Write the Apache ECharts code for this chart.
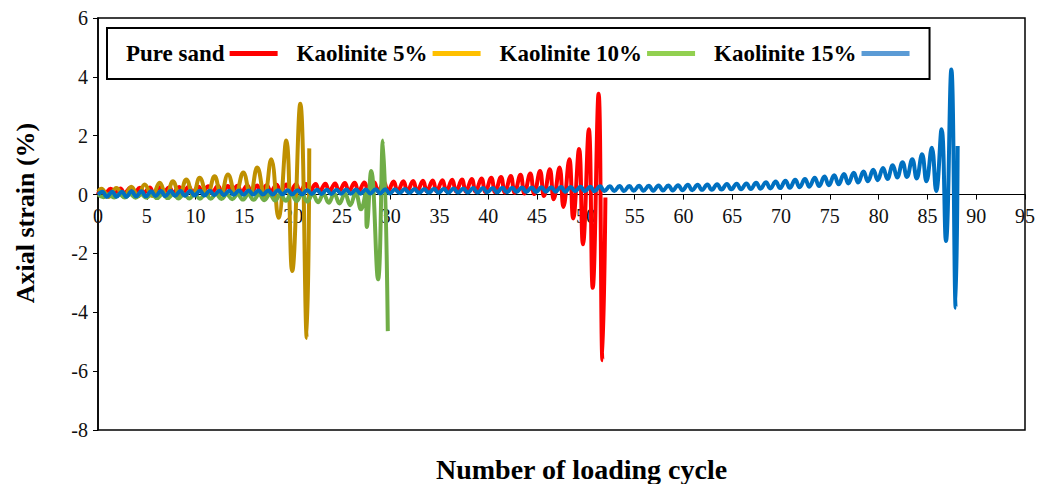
<!DOCTYPE html>
<html>
<head>
<meta charset="utf-8">
<script src="https://cdn.jsdelivr.net/npm/echarts@6/dist/echarts.min.js"></script>
<style>
  html, body { margin: 0; padding: 0; background: #fff; }
  #chart { width: 1037px; height: 484px; }
</style>
</head>
<body>
<div id="chart"></div>
<script>
// Axis ranges: [min, max, step]
const cycleAxis = [0, 95, 5];
const strainAxis = [-8, 6, 2];

const seriesNames = ['Pure sand', 'Kaolinite 5%', 'Kaolinite 10%', 'Kaolinite 15%'];
const lineColors = ['#ff0000', '#bf9000', '#70ad47', '#0070c0'];
const legendColors = ['#ff0000', '#ffc000', '#92d050', '#5b9bd5'];

// Pure sand: crest and trough strain (%) for each loading cycle 0..51
const sandCrests = [
  0.18, 0.20, 0.21, 0.22, 0.23, 0.24, 0.25, 0.25, 0.26, 0.27,
  0.27, 0.28, 0.29, 0.29, 0.30, 0.31, 0.31, 0.32, 0.33, 0.34,
  0.35, 0.36, 0.36, 0.37, 0.38, 0.39, 0.40, 0.41, 0.42, 0.43,
  0.44, 0.45, 0.46, 0.47, 0.48, 0.49, 0.50, 0.51, 0.53, 0.55,
  0.57, 0.60, 0.63, 0.67, 0.72, 0.80, 0.86, 0.92, 1.20, 1.55,
  2.22, 3.43
];
const sandTroughs = [
  0.03, 0.05, 0.05, 0.06, 0.06, 0.06, 0.07, 0.07, 0.07, 0.08,
  0.08, 0.08, 0.08, 0.09, 0.09, 0.09, 0.09, 0.10, 0.10, 0.10,
  0.10, 0.10, 0.10, 0.11, 0.11, 0.11, 0.11, 0.11, 0.11, 0.11,
  0.11, 0.11, 0.11, 0.11, 0.11, 0.11, 0.10, 0.10, 0.10, 0.09,
  0.08, 0.07, 0.06, 0.04, 0.02, -0.05, -0.16, -0.42, -0.81, -1.69,
  -3.17, -5.63
];
const sandStart = [0, 0];
const sandEnd = [52.0, -0.1];

// Kaolinite 15%: crest and trough strain (%) for each loading cycle 0..87
const k15Crests = [
  0.10, 0.10, 0.10, 0.11, 0.11, 0.11, 0.12, 0.12, 0.12, 0.12,
  0.13, 0.13, 0.13, 0.13, 0.14, 0.14, 0.14, 0.14, 0.15, 0.15,
  0.15, 0.15, 0.16, 0.16, 0.16, 0.17, 0.17, 0.17, 0.18, 0.18,
  0.18, 0.19, 0.19, 0.19, 0.20, 0.20, 0.21, 0.21, 0.22, 0.22,
  0.22, 0.23, 0.23, 0.24, 0.24, 0.25, 0.25, 0.26, 0.26, 0.27,
  0.27, 0.28, 0.28, 0.29, 0.29, 0.30, 0.30, 0.31, 0.31, 0.32,
  0.33, 0.33, 0.34, 0.35, 0.36, 0.37, 0.38, 0.40, 0.42, 0.44,
  0.47, 0.50, 0.53, 0.57, 0.61, 0.66, 0.70, 0.74, 0.78, 0.84,
  0.90, 1.00, 1.10, 1.20, 1.37, 1.59, 2.22, 4.25
];
const k15Troughs = [
  -0.08, -0.07, -0.07, -0.06, -0.06, -0.05, -0.05, -0.04, -0.04, -0.03,
  -0.03, -0.02, -0.02, -0.01, -0.01, 0.00, 0.00, 0.00, 0.01, 0.01,
  0.01, 0.02, 0.02, 0.02, 0.03, 0.03, 0.03, 0.04, 0.04, 0.04,
  0.05, 0.05, 0.05, 0.06, 0.06, 0.06, 0.07, 0.07, 0.07, 0.08,
  0.08, 0.08, 0.09, 0.09, 0.09, 0.10, 0.10, 0.10, 0.11, 0.11,
  0.11, 0.12, 0.12, 0.12, 0.13, 0.13, 0.13, 0.14, 0.14, 0.15,
  0.15, 0.16, 0.16, 0.17, 0.18, 0.18, 0.19, 0.20, 0.21, 0.22,
  0.23, 0.25, 0.27, 0.29, 0.32, 0.35, 0.38, 0.41, 0.45, 0.49,
  0.53, 0.58, 0.60, 0.55, 0.45, 0.12, -1.58, -3.85
];
const k15Start = [0, 0];
const k15End = [88.1, 1.65];

// Kaolinite 5%: [cycle, strain %] at each crest and trough
const k5Points = [
  [0, 0.10], [0.34, 0.20], [1.10, -0.08], [1.88, 0.22], [2.65, -0.07],
  [3.41, 0.27], [4.10, -0.06], [4.78, 0.34], [5.55, -0.05], [6.32, 0.40],
  [7.00, -0.04], [7.68, 0.45], [8.35, -0.03], [9.05, 0.51], [9.75, -0.02],
  [10.42, 0.57], [11.20, -0.02], [11.95, 0.62], [12.60, -0.01], [13.32, 0.68],
  [14.10, 0.00], [14.89, 0.75], [15.60, 0.00], [16.32, 0.92], [17.05, -0.05],
  [17.75, 1.20], [18.50, -0.79], [19.29, 1.84], [19.90, -2.60], [20.73, 3.09],
  [21.40, -4.87], [21.65, 1.57]
];

// Kaolinite 10%: [cycle, strain %] at each crest and trough
const k10Points = [
  [0, 0.00], [0.55, -0.09], [1.10, 0.01], [1.65, -0.10], [2.20, 0.01],
  [2.75, -0.10], [3.30, 0.01], [3.85, -0.11], [4.40, 0.01], [4.95, -0.11],
  [5.50, 0.01], [6.05, -0.12], [6.60, 0.01], [7.15, -0.12], [7.70, 0.01],
  [8.25, -0.13], [8.80, 0.01], [9.35, -0.13], [9.90, 0.01], [10.45, -0.14],
  [11.00, 0.01], [11.55, -0.14], [12.10, 0.01], [12.65, -0.15], [13.20, 0.01],
  [13.75, -0.16], [14.30, 0.01], [14.85, -0.17], [15.40, 0.01], [15.95, -0.18],
  [16.50, 0.01], [17.05, -0.19], [17.60, 0.01], [18.15, -0.20], [18.70, 0.01],
  [19.25, -0.21], [19.80, 0.02], [20.35, -0.22], [20.90, 0.02], [21.45, -0.24],
  [22.00, 0.02], [22.55, -0.26], [23.10, 0.02], [23.65, -0.28], [24.20, 0.03],
  [24.75, -0.30], [25.30, 0.04], [25.85, -0.36], [26.40, 0.06], [26.95, -0.50],
  [27.45, 0.10], [27.55, -1.10], [28.00, 0.80], [28.70, -2.88], [29.20, 1.84],
  [29.70, -4.64]
];

// Turn per-cycle crest/trough lists into [cycle, strain] points
function cyclePoints(start, crests, troughs, crestPhase, troughPhase, end) {
  const pts = [start];
  crests.forEach((c, k) => {
    pts.push([k + crestPhase, c]);
    pts.push([k + troughPhase, troughs[k]]);
  });
  pts.push(end);
  return pts;
}

const sandPoints = cyclePoints(sandStart, sandCrests, sandTroughs, 0.3, 0.7, sandEnd);
const k15Points = cyclePoints(k15Start, k15Crests, k15Troughs, 0.45, 0.9, k15End);

const seriesData = [sandPoints, k5Points, k10Points, k15Points];
const lineWidths = [4, 4, 4, 4];

const serif = "'Liberation Serif', 'Times New Roman', serif";

// Plot frame in pixels
const gridBox = { left: 98, right: 12, top: 18, bottom: 54 };
const plotHeight = 484 - gridBox.top - gridBox.bottom;
// Distance from the bottom frame up to the zero-strain line
const zeroLift = plotHeight * (0 - strainAxis[0]) / (strainAxis[1] - strainAxis[0]);

const chart = echarts.init(document.getElementById('chart'), null, { renderer: 'svg' });

chart.setOption({
  animation: false,
  backgroundColor: '#fff',
  textStyle: { fontFamily: serif },
  title: {
    text: 'Number of loading cycle',
    left: 431, top: 450,
    textStyle: { fontFamily: serif, fontWeight: 'bold', fontSize: 28, color: '#000' }
  },
  grid: {
    left: gridBox.left, right: gridBox.right, top: gridBox.top, bottom: gridBox.bottom,
    outerBoundsMode: 'none',
    containLabel: false,
    show: true, borderColor: '#000', borderWidth: 1.5, backgroundColor: 'transparent'
  },
  legend: {
    left: 107, top: 28,
    orient: 'horizontal',
    align: 'right',
    icon: 'rect',
    itemWidth: 48, itemHeight: 5,
    itemGap: 19,
    padding: [14, 20, 14, 19],
    borderColor: '#000', borderWidth: 2,
    textStyle: { fontFamily: serif, fontWeight: 'bold', fontSize: 23, color: '#000' },
    data: seriesNames.map((n, i) => ({ name: n, itemStyle: { color: legendColors[i] } }))
  },
  xAxis: {
    type: 'value',
    position: 'bottom',
    offset: -zeroLift,
    min: cycleAxis[0], max: cycleAxis[1], interval: cycleAxis[2],
    axisLine: { show: true, onZero: false, lineStyle: { color: '#000', width: 1.2 } },
    axisTick: { show: true, inside: false, length: 5, lineStyle: { color: '#000' } },
    axisLabel: { fontFamily: serif, fontSize: 20, color: '#111', margin: 11 },
    splitLine: { show: false }
  },
  yAxis: {
    type: 'value',
    min: strainAxis[0], max: strainAxis[1], interval: strainAxis[2],
    name: 'Axial strain (%)',
    nameLocation: 'middle',
    nameGap: 60,
    nameRotate: 90,
    nameTextStyle: { fontFamily: serif, fontWeight: 'bold', fontSize: 26, color: '#000', padding: [0, 0, 0, 22] },
    axisLine: { show: true, lineStyle: { color: '#000', width: 1.5 } },
    axisTick: { show: true, inside: false, length: 5, lineStyle: { color: '#000' } },
    axisLabel: { fontFamily: serif, fontSize: 20, color: '#111', margin: 10 },
    splitLine: { show: false }
  },
  series: seriesNames.map((n, i) => ({
    name: n,
    type: 'line',
    data: seriesData[i],
    showSymbol: false,
    symbol: 'none',
    smooth: 0.45,
    color: lineColors[i],
    lineStyle: { color: lineColors[i], width: lineWidths[i] },
    z: 2 + i
  }))
});
</script>
</body>
</html>
